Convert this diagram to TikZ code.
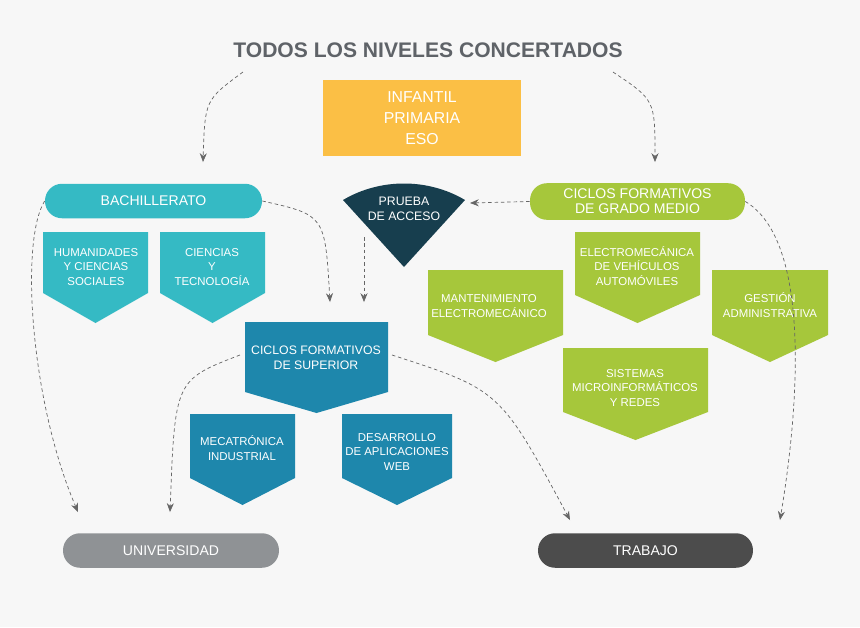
\documentclass[tikz,border=0pt]{standalone}
\usepackage{fontspec}
\setmainfont{Liberation Sans}
\usetikzlibrary{arrows.meta}
\definecolor{teal}{HTML}{35BAC4}
\definecolor{azul}{HTML}{1E87AC}
\definecolor{verde}{HTML}{A6C73B}
\definecolor{oscuro}{HTML}{173E4E}
\definecolor{amarillo}{HTML}{FBBF45}
\definecolor{titulo}{HTML}{5F6368}
\newcommand{\pentagono}[6]{\fill[#6] (#1,#2) -- (#3,#2) -- (#3,#5) -- ({(#1+#3)/2},#4) -- (#1,#5) -- cycle;}
\begin{document}
\begin{tikzpicture}[
	x = 0.02cm, y = -0.02cm,
	> = {Stealth[length=5pt,width=4pt]},
	txt/.style={text=white, align=center, font=\fontsize{6.5}{8.3}\selectfont},
	pill/.style={txt, rounded corners=0.34cm, minimum height=0.69cm, font=\fontsize{8}{8.5}\selectfont},
	flecha/.style={->, draw=gray!80!black, dashed, dash pattern=on 2pt off 1.6pt, thin},
	]
	\fill[white!97!black] (0,0) rectangle (860,627);
	\useasboundingbox (0,0) rectangle (860,627);

	% Title and first block
	\node[text=titulo, font=\bfseries\fontsize{12}{14}\selectfont] (tit) at (428,50) {TODOS LOS NIVELES CONCERTADOS};
	\node[fill=amarillo, txt, font=\fontsize{9}{12}\selectfont, minimum width=3.96cm, minimum height=1.52cm] (inf) at (422,118) {INFANTIL\\PRIMARIA\\ESO};

	% Pills
	\node[pill, fill=teal, minimum width=4.34cm] (bach) at (153.5,201) {BACHILLERATO};
	\node[pill, fill=verde, minimum width=4.3cm] (medio) at (637.5,201.5) {CICLOS FORMATIVOS\\DE GRADO MEDIO};
	\node[pill, fill=titulo!70!white, minimum width=4.32cm] (uni) at (171,550.5) {UNIVERSIDAD};
	\node[pill, fill=black!70, minimum width=4.3cm] (trab) at (645.5,550.5) {TRABAJO};

	% Shapes
	\fill[oscuro] (343,200) .. controls (380,178) and (428,178) .. (465,200) -- (404,267) -- cycle;
	\node[txt, font=\fontsize{7}{8.5}\selectfont] (prueba) at (404,209) {PRUEBA\\DE ACCESO};
	\pentagono{43}{232}{148}{323}{293}{teal}
	\pentagono{160}{232}{265}{323}{293}{teal}
	\pentagono{245}{322}{388}{413}{392}{azul}
	\pentagono{190}{414}{295}{505}{478}{azul}
	\pentagono{342}{414}{452}{505}{478}{azul}
	\pentagono{428}{270}{563}{362}{335}{verde}
	\pentagono{575}{232}{700}{323}{295}{verde}
	\pentagono{712}{270}{828}{362}{335}{verde}
	\pentagono{563}{348}{708}{440}{412}{verde}

	% Texts
	\node[txt] (hum) at (96,267) {HUMANIDADES\\Y CIENCIAS\\SOCIALES};
	\node[txt] (cie) at (212,267) {CIENCIAS\\Y\\TECNOLOGÍA};
	\node[txt, font=\fontsize{7}{8.5}\selectfont] (sup) at (316,358) {CICLOS FORMATIVOS\\DE SUPERIOR};
	\node[txt] (meca) at (242,448) {MECATRÓNICA\\INDUSTRIAL};
	\node[txt] (web) at (397,452) {DESARROLLO\\DE APLICACIONES\\WEB};
	\node[txt] (mant) at (489,306) {MANTENIMIENTO\\ELECTROMECÁNICO};
	\node[txt] (elec) at (637,266) {ELECTROMECÁNICA\\DE VEHÍCULOS\\AUTOMÓVILES};
	\node[txt] (gest) at (770,305) {GESTIÓN\\ADMINISTRATIVA};
	\node[txt] (sis) at (635,388) {SISTEMAS\\MICROINFORMÁTICOS\\Y REDES};

	% Arrows
	\draw[flecha] (243,72) .. controls (205,100) .. (203,162);
	\draw[flecha] (613,72) .. controls (655,100) .. (655,162);
	\draw[flecha] (bach.east) .. controls (325,215) .. (330,302);
	\draw[flecha] (364,237) -- (364,302);
	\draw[flecha] (medio.west) -- (470,203);
	\draw[flecha] (bach.west) .. controls (20,240) and (30,400) .. (78,512);
	\draw[flecha] (240,355) .. controls (175,380) .. (170,512);
	\draw[flecha] (392,355) .. controls (500,390) .. (570,520);
	\draw[flecha] (medio.east) .. controls (810,240) and (800,400) .. (780,520);
\end{tikzpicture}
\end{document}
